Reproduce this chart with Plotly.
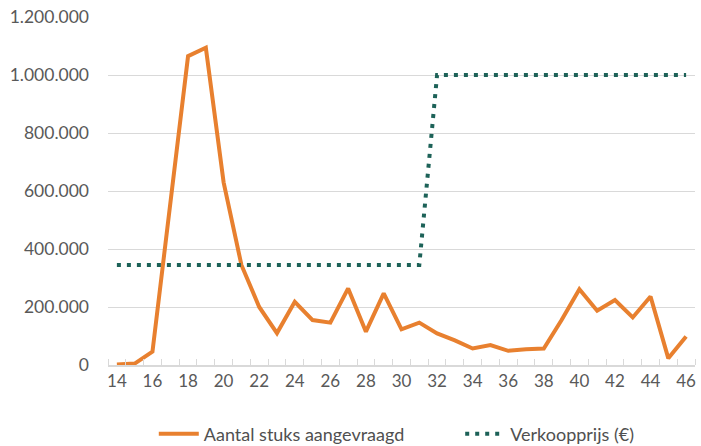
import plotly.graph_objects as go

weeks = list(range(14, 47))
aantal = [2000, 5000, 46000, 560000, 1065000, 1094000, 630000, 345000, 200000, 110000,
          218000, 155000, 146000, 264000, 115000, 247000, 123000, 146000, 109000, 85000,
          57000, 69000, 49000, 54000, 57000, 155000, 261000, 187000, 224000, 164000,
          236000, 23000, 98000]
prijs = [345000] * 18 + [1000000] * 15
x_ticks = list(range(14, 47, 2))
y_ticks = [0, 200000, 400000, 600000, 800000, 1000000, 1200000]

fig = go.Figure()
fig.add_trace(go.Scatter(x=weeks, y=aantal, mode="lines", name="Aantal stuks aangevraagd",
                         line=dict(color="#E8802F", width=4), legend="legend"))
fig.add_trace(go.Scatter(x=weeks, y=prijs, mode="lines", name="Verkoopprijs (€)",
                         line=dict(color="#1D6258", width=4, dash="4px,6px"), legend="legend2"))

font_fam = "Lato, Open Sans, sans-serif"
leg_common = dict(orientation="h", xanchor="left", y=-0.145, yanchor="top",
                  font=dict(size=18, color="#505050"), itemwidth=40)
fig.update_layout(
    width=701, height=446,
    margin=dict(l=108, r=6, t=17, b=81, autoexpand=False),
    paper_bgcolor="white", plot_bgcolor="white",
    separators=",.",
    font=dict(family=font_fam, color="#595959", size=15),
    showlegend=True,
    legend=dict(x=0.078, **leg_common),
    legend2=dict(x=0.600, **leg_common),
    xaxis=dict(range=[13.5, 46.5], tickmode="array", tickvals=x_ticks,
               ticktext=[str(v) for v in x_ticks], showgrid=False, automargin=False,
               showline=True, linecolor="#D9D9D9", linewidth=1.5,
               ticks="", zeroline=False,
               minor=dict(tick0=13.5, dtick=1, ticks="inside", ticklen=6,
                          tickcolor="#D9D9D9", showgrid=False),
               tickfont=dict(size=17)),
    yaxis=dict(range=[0, 1200000], tickmode="array", tickvals=y_ticks, automargin=False,
               tickformat=",d", showgrid=True, gridcolor="#D9D9D9", gridwidth=1,
               zeroline=False, showline=False, ticks="", ticklabelstandoff=18,
               tickfont=dict(size=17.5)),
)
fig.write_html("out.html", config={"displayModeBar": False},
               post_script="document.body.style.margin='0';document.body.style.padding='0';")
